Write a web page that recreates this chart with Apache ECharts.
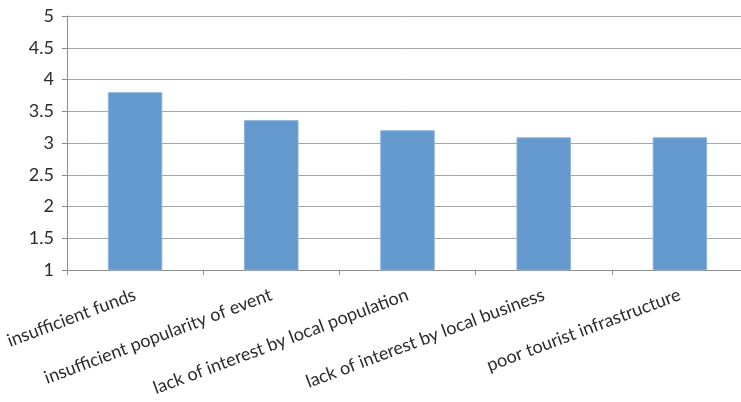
<!DOCTYPE html>
<html>
<head>
<meta charset="utf-8">
<script src="https://cdn.jsdelivr.net/npm/echarts@6/dist/echarts.min.js"></script>
<style>
  html, body { margin: 0; padding: 0; background: #fff; }
  #chart { width: 741px; height: 402px; }
</style>
</head>
<body>
<div id="chart"></div>
<script>
// Obstacles and their mean ratings
const categories = [
  'insufficient funds',
  'insufficient popularity of event',
  'lack of interest by local population',
  'lack of interest by local business',
  'poor tourist infrastructure'
];
const ratings = [3.8, 3.36, 3.2, 3.09, 3.09];
const yMin = 1;
const yMax = 5;
const yStep = 0.5;

const chart = echarts.init(document.getElementById('chart'), null, { renderer: 'canvas' });
const font = 'Lato, "Open Sans", sans-serif';

chart.setOption({
  animation: false,
  // plot runs slightly past the right edge of the canvas
  grid: {
    left: 67, top: 16, width: 681, bottom: 132,
    containLabel: false,
    outerBoundsMode: 'none'
  },
  xAxis: {
    type: 'category',
    data: categories,
    axisLine: { lineStyle: { color: '#8c8c8c', width: 1 } },
    axisTick: { show: true, alignWithLabel: false, length: 5, lineStyle: { color: '#8c8c8c' } },
    axisLabel: {
      interval: 0,
      rotate: 20.5,
      margin: 24,
      color: '#2b2b2b',
      fontFamily: font,
      fontSize: 18
    }
  },
  yAxis: {
    type: 'value',
    min: yMin,
    max: yMax,
    interval: yStep,
    axisLine: { show: true, lineStyle: { color: '#8c8c8c', width: 1 } },
    axisTick: { show: true, length: 5, lineStyle: { color: '#8c8c8c' } },
    splitLine: { lineStyle: { color: '#a6a6a6', width: 1 } },
    axisLabel: {
      margin: 13,
      color: '#2b2b2b',
      fontFamily: font,
      fontSize: 18
    }
  },
  series: [{
    type: 'bar',
    data: ratings,
    barWidth: '40%',
    itemStyle: { color: '#6399cc', borderColor: '#8db3dc', borderWidth: 1 }
  }]
});
</script>
</body>
</html>
